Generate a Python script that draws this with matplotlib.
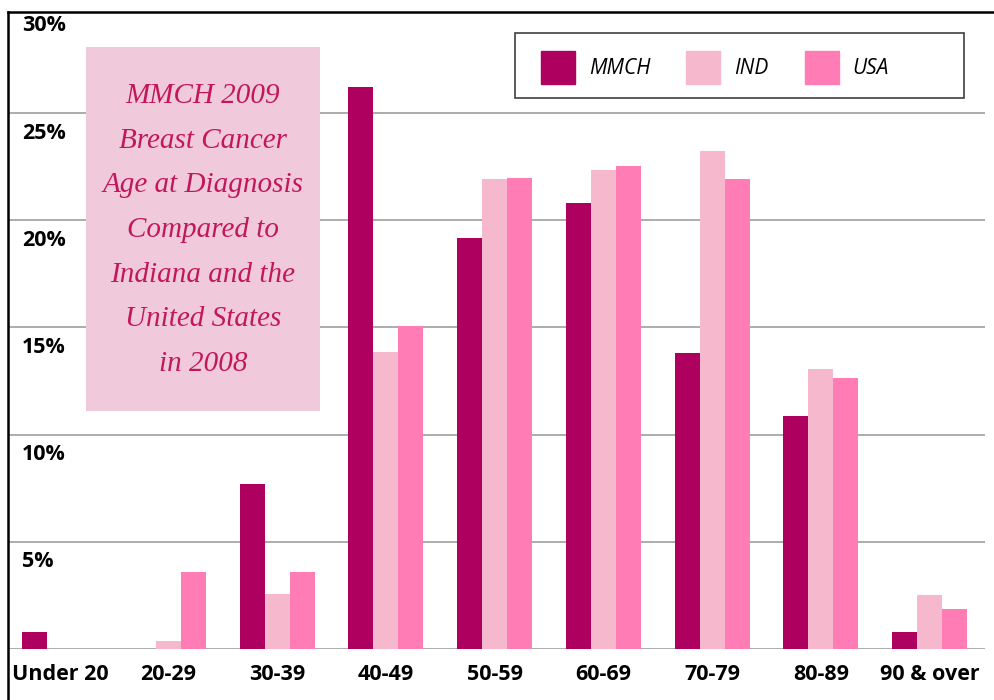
import numpy as np
import matplotlib.pyplot as plt
from matplotlib.lines import Line2D
from matplotlib.patches import Rectangle, Patch

categories = ['Under 20', '20-29', '30-39', '40-49', '50-59', '60-69', '70-79', '80-89', '90 & over']
mmch = [0.8, 0.0, 7.7, 26.2, 19.15, 20.8, 13.8, 10.85, 0.8]
ind = [0.0, 0.37, 2.57, 13.85, 21.9, 22.35, 23.2, 13.05, 2.5]
usa = [0.0, 3.6, 3.6, 15.07, 21.95, 22.5, 21.9, 12.65, 1.87]
series = [('MMCH', mmch, '#ae005e'), ('IND', ind, '#f5b8cd'), ('USA', usa, '#ff7db4')]
yticks = [5, 10, 15, 20, 25, 30]
title = 'MMCH 2009\nBreast Cancer\nAge at Diagnosis\nCompared to\nIndiana and the\nUnited States\nin 2008'

W, H = 995, 700
fig = plt.figure(figsize=(W / 100, H / 100), dpi=100)
ax = fig.add_axes([8 / W, 51 / H, 977 / W, 637 / H])

x = np.arange(len(categories))
bw = 0.23
for k, (name, vals, col) in enumerate(series):
    ax.bar(x + (k - 1) * bw, vals, bw, color=col, label=name, zorder=3)

ax.set_xlim(-0.477, 8.511)
ax.set_ylim(0, 29.7)
ax.set_yticks([0] + yticks[:-1])
ax.yaxis.grid(True, color='#969696', lw=1.1)
ax.set_axisbelow(True)
ax.tick_params(axis='y', length=0, labelleft=False)
ax.tick_params(axis='x', length=0, pad=10.5)
ax.set_xticks(x)
ax.set_xticklabels(categories, fontsize=15.5, fontweight='bold', family='Open Sans')
for s in ax.spines.values():
    s.set_visible(False)

for v in yticks:
    ax.annotate(f'{v}%', xy=(0, v), xycoords=ax.get_yaxis_transform(),
                xytext=(10, -7), textcoords='offset points', ha='left', va='top',
                fontsize=15.5, fontweight='bold', family='Open Sans')

# outer frame (left and top only, rest cut off)
fig.add_artist(Line2D([8 / W, 1], [1 - 12 / H] * 2, transform=fig.transFigure, color='black', lw=1.8))
fig.add_artist(Line2D([8 / W] * 2, [0, 1 - 12 / H], transform=fig.transFigure, color='black', lw=1.8))

# legend
handles = [Patch(color=c) for _, _, c in series]
leg = ax.legend(handles, [n for n, _, _ in series], loc='center left',
                bbox_to_anchor=(541 / W, 1 - 67.5 / H), bbox_transform=fig.transFigure,
                ncol=3, frameon=False, borderpad=0, borderaxespad=0,
                handlelength=1.63, handleheight=2.08, handletextpad=0.67, columnspacing=1.73,
                prop={'family': 'Open Sans', 'style': 'italic', 'size': 15})
fig.add_artist(Rectangle((515 / W, 1 - 98 / H), 449 / W, 65 / H, transform=fig.transFigure,
                         fill=False, edgecolor='#404040', lw=1.2))

# title box
fig.add_artist(Rectangle((86 / W, 1 - 411 / H), 234 / W, 364 / H, transform=fig.transFigure,
                         facecolor='#f0cadb', edgecolor='none', zorder=4))
fig.text(203 / W, 1 - 230 / H, title, ha='center', va='center', color='#c2185b',
         fontsize=21, style='italic', family='Liberation Serif', linespacing=1.93, zorder=5)

fig.savefig('out.png', dpi=100)
